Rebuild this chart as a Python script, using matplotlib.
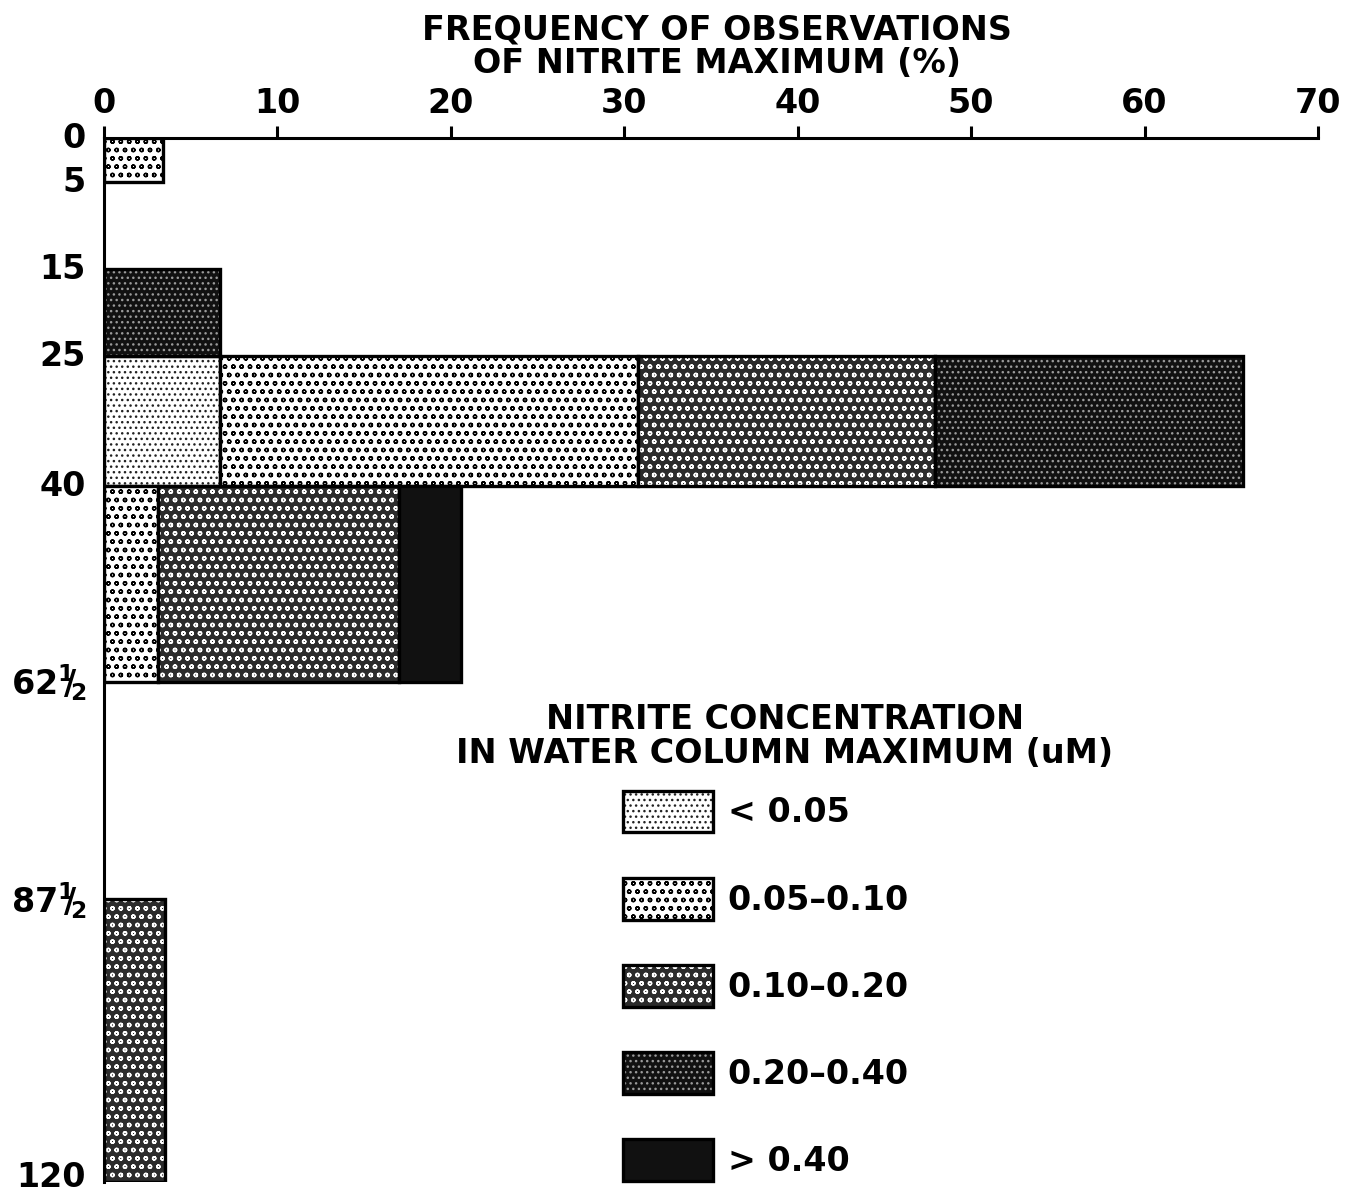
import numpy as np
import matplotlib
matplotlib.use('Agg')
import matplotlib.pyplot as plt
from matplotlib.patches import Patch
from matplotlib.transforms import ScaledTranslation

plt.rcParams['font.family'] = ['DejaVu Sans']
plt.rcParams['font.weight'] = 'bold'
plt.rcParams['mathtext.fontset'] = 'custom'
plt.rcParams['mathtext.rm'] = 'DejaVu Sans:bold'
plt.rcParams['mathtext.bf'] = 'DejaVu Sans:bold'
plt.rcParams['mathtext.it'] = 'DejaVu Sans:bold'
plt.rcParams['hatch.linewidth'] = 1.0

# depth bins (m)
depth_top = [0, 15, 25, 40, 87.5]
depth_bottom = [5, 25, 40, 62.5, 120]

# frequency (%) per nitrite class in each depth bin
lt_005 = [0, 0, 6.7, 0, 0]
c005_010 = [3.4, 0, 24.1, 3.1, 0]
c010_020 = [0, 0, 17.1, 13.9, 3.5]
c020_040 = [0, 6.7, 17.8, 0, 0]
gt_040 = [0, 0, 0, 3.6, 0]

series = [lt_005, c005_010, c010_020, c020_040, gt_040]
labels = ['< 0.05', '0.05\u20130.10', '0.10\u20130.20', '0.20\u20130.40', '> 0.40']

# (face, hatch colour, hatch)
styles = [
    ('white', '#222222', '...'),
    ('white', 'black', 'oo'),
    ('#2c2c2c', 'white', 'oo'),
    ('#111111', '#9a9a9a', '...'),
    ('#111111', '#111111', ''),
]

depth_ticks = [0, 5, 15, 25, 40, 62.5, 87.5, 120]
depth_ticklabels = ['0', '5', '15', '25', '40',
                    r'62$^{1}\!\!/\!_{2}$', r'87$^{1}\!\!/\!_{2}$', '120']

FS = 24

fig = plt.figure(figsize=(13.55, 11.95), dpi=100)
ax = fig.add_axes([0.0768, 0.0109, 0.8959, 0.8736])

y = np.array(depth_top)
h = np.array(depth_bottom) - y
left = np.zeros(len(y))
for vals, (fc, hc, hatch) in zip(series, styles):
    vals = np.array(vals)
    m = vals > 0
    ax.barh(y[m], vals[m], height=h[m], left=left[m], align='edge',
            facecolor=fc, edgecolor=hc, hatch=hatch, linewidth=0)
    ax.barh(y[m], vals[m], height=h[m], left=left[m], align='edge',
            facecolor='none', edgecolor='black', linewidth=2.4)
    left += vals

ax.set_xlim(0, 70)
ax.set_ylim(120, 0)
ax.xaxis.tick_top()
ax.set_xticks(np.arange(0, 71, 10))
ax.tick_params(axis='x', direction='out', length=9, width=2.2, labelsize=FS, pad=4)
ax.set_yticks(depth_ticks)
ax.set_yticklabels(depth_ticklabels)
ax.tick_params(axis='y', length=0, labelsize=FS, pad=13)
ylabs = ax.get_yticklabels()
for i, lab in enumerate(ylabs):
    up = 6 if i == len(ylabs) - 1 else 2
    lab.set_transform(lab.get_transform() + ScaledTranslation(0, up / 72, fig.dpi_scale_trans))

for s in ['right', 'bottom']:
    ax.spines[s].set_visible(False)
for s in ['left', 'top']:
    ax.spines[s].set_linewidth(2.2)

fig.text(0.529, 0.989, 'FREQUENCY OF OBSERVATIONS\nOF NITRITE MAXIMUM (%)',
         ha='center', va='top', fontsize=FS, linespacing=1.05)

fig.text(785 / 1355, 1 - 703 / 1195, 'NITRITE CONCENTRATION\nIN WATER COLUMN MAXIMUM (uM)',
         ha='center', va='top', fontsize=FS, linespacing=1.05)

handles = []
for fc, hc, hatch in styles:
    handles.append((Patch(facecolor=fc, edgecolor=hc, hatch=hatch, linewidth=0),
                    Patch(facecolor='none', edgecolor='black', linewidth=2.4)))
leg = ax.legend(handles, labels, loc='upper left',
                bbox_to_anchor=(606 / 1355, 1 - 774 / 1195),
                bbox_transform=fig.transFigure, frameon=False, fontsize=FS,
                handlelength=2.7, handleheight=1.55,
                handletextpad=0.45, labelspacing=1.36, borderpad=0)

fig.savefig('out.png', dpi=100)
